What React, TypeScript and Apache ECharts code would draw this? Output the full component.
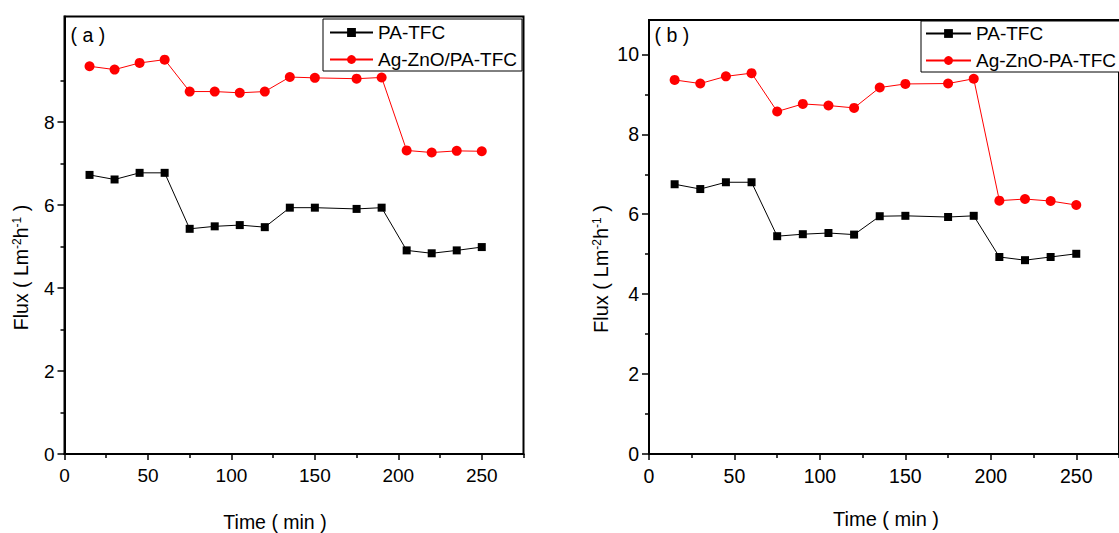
import React, { useEffect, useRef } from 'react';
import * as echarts from 'echarts';

// ---- data ----
const times = [15, 30, 45, 60, 75, 90, 105, 120, 135, 150, 175, 190, 205, 220, 235, 250];
const fluxPA_a = [6.73, 6.62, 6.78, 6.78, 5.43, 5.49, 5.52, 5.47, 5.94, 5.94, 5.91, 5.94, 4.91, 4.84, 4.91, 4.99];
const fluxAg_a = [9.35, 9.27, 9.43, 9.51, 8.74, 8.74, 8.71, 8.74, 9.09, 9.07, 9.05, 9.08, 7.32, 7.27, 7.31, 7.30];
const fluxPA_b = [6.75, 6.63, 6.80, 6.80, 5.45, 5.50, 5.53, 5.49, 5.95, 5.96, 5.93, 5.96, 4.93, 4.85, 4.93, 5.01];
const fluxAg_b = [9.36, 9.27, 9.45, 9.53, 8.57, 8.76, 8.72, 8.66, 9.17, 9.26, 9.27, 9.39, 6.34, 6.38, 6.33, 6.23];
const namesA = ['PA-TFC', 'Ag-ZnO/PA-TFC'];
const namesB = ['PA-TFC', 'Ag-ZnO-PA-TFC'];
const xMajorTicks = [0, 50, 100, 150, 200, 250];
const xMinorTicks = [25, 75, 125, 175, 225, 275];
const yMajorTicksA = [0, 2, 4, 6, 8];
const yMajorTicksB = [0, 2, 4, 6, 8, 10];
const yMinorTicks = [1, 3, 5, 7, 9];
const panelLabels = ['( a )', '( b )'];
const xTitle = 'Time ( min )';

const FONT = "'Liberation Sans', Arial, sans-serif";

function pairs(xs: number[], ys: number[]) {
  return xs.map((x, i) => [x, ys[i]]);
}

function xAxes(gridIndex: number, max: number, fs: number) {
  return [
    {
      type: 'value', gridIndex, min: 0, max, position: 'bottom',
      axisLine: { show: true, onZero: false, lineStyle: { color: '#000', width: 2 } },
      axisTick: { show: true, inside: false, length: 6, lineStyle: { color: '#000', width: 1.5 }, customValues: xMajorTicks },
      axisLabel: { show: true, margin: 12, color: '#000', fontSize: fs, fontFamily: FONT, customValues: xMajorTicks },
      splitLine: { show: false },
    },
    {
      type: 'value', gridIndex, min: 0, max, position: 'bottom',
      axisLine: { show: false, onZero: false },
      axisTick: { show: true, inside: false, length: 4, lineStyle: { color: '#000', width: 1.5 }, customValues: xMinorTicks },
      axisLabel: { show: false },
      splitLine: { show: false },
    },
  ];
}

function yAxes(gridIndex: number, max: number, major: number[], fs: number) {
  return [
    {
      type: 'value', gridIndex, min: 0, max, position: 'left',
      axisLine: { show: true, onZero: false, lineStyle: { color: '#000', width: 2 } },
      axisTick: { show: true, inside: false, length: 7, lineStyle: { color: '#000', width: 1.5 }, customValues: major },
      axisLabel: { show: true, margin: 10, color: '#000', fontSize: fs, fontFamily: FONT, customValues: major },
      splitLine: { show: false },
    },
    {
      type: 'value', gridIndex, min: 0, max, position: 'left',
      axisLine: { show: false, onZero: false },
      axisTick: { show: true, inside: false, length: 4, lineStyle: { color: '#000', width: 1.5 }, customValues: yMinorTicks },
      axisLabel: { show: false },
      splitLine: { show: false },
    },
  ];
}

function lineSeries(name: string, xIdx: number, yIdx: number, data: number[][], red: boolean) {
  const color = red ? '#ff0000' : '#000000';
  return {
    type: 'line', name, xAxisIndex: xIdx, yAxisIndex: yIdx, data,
    symbol: red ? 'circle' : 'rect', symbolSize: red ? 10 : 8,
    itemStyle: { color }, lineStyle: { color, width: 1 },
    emphasis: { disabled: true },
  };
}

function yTitle(x: number, y: number, fs: number) {
  return {
    type: 'text', x, y, rotation: Math.PI / 2,
    style: {
      text: '{a|Flux ( Lm}{s|-2}{a|h}{s|-1}{a| )}',
      rich: {
        a: { fontSize: fs, fontFamily: FONT, fill: '#000' },
        s: { fontSize: 12, fontFamily: FONT, fill: '#000', verticalAlign: 'top' },
      },
      align: 'center', verticalAlign: 'middle',
    },
  };
}

function plainText(text: string, x: number, y: number, align: string, fs: number) {
  return {
    type: 'text', x, y,
    style: { text, fontSize: fs, fontFamily: FONT, fill: '#000', align, verticalAlign: 'middle' },
  };
}

export default function App() {
  const ref = useRef<HTMLDivElement>(null);
  useEffect(() => {
    if (!ref.current) return;
    const chart = echarts.init(ref.current, undefined, { renderer: 'svg' });
    const option: any = {
      animation: false,
      backgroundColor: '#fff',
      grid: [
        { left: 64.5, top: 16.5, width: 459, height: 437.5, show: true, borderColor: '#000', borderWidth: 2, backgroundColor: 'transparent', containLabel: false },
        { left: 649, top: 20, width: 480, height: 434, show: true, borderColor: '#000', borderWidth: 2, backgroundColor: 'transparent', containLabel: false },
      ],
      xAxis: [...xAxes(0, 275, 19), ...xAxes(1, 275, 19.5)],
      yAxis: [...yAxes(0, 10.55, yMajorTicksA, 19), ...yAxes(1, 10.86, yMajorTicksB, 19.5)],
      legend: [
        {
          orient: 'vertical', left: 323, top: 19, data: namesA,
          itemWidth: 43, itemHeight: 11, itemGap: 8, padding: [4, 5, 2, 6],
          borderColor: '#000', borderWidth: 1, backgroundColor: '#fff',
          textStyle: { fontSize: 19, fontFamily: FONT, color: '#000' }, selectedMode: false,
        },
        {
          orient: 'vertical', left: 921, top: 21, data: namesB,
          itemWidth: 45, itemHeight: 11, itemGap: 8, padding: [3, 5, 2, 4],
          borderColor: '#000', borderWidth: 1, backgroundColor: '#fff',
          textStyle: { fontSize: 19, fontFamily: FONT, color: '#000' }, selectedMode: false,
        },
      ],
      series: [
        lineSeries(namesA[0], 0, 0, pairs(times, fluxPA_a), false),
        lineSeries(namesA[1], 0, 0, pairs(times, fluxAg_a), true),
        lineSeries(namesB[0], 2, 2, pairs(times, fluxPA_b), false),
        lineSeries(namesB[1], 2, 2, pairs(times, fluxAg_b), true),
      ],
      graphic: [
        plainText(panelLabels[0], 70.5, 34.5, 'left', 19.5),
        plainText(panelLabels[1], 654.5, 34.5, 'left', 19.5),
        plainText(xTitle, 275, 522, 'center', 19.5),
        plainText(xTitle, 886, 519, 'center', 20),
        yTitle(21, 267.5, 19.5),
        yTitle(601, 269, 20),
      ],
    };
    chart.setOption(option);
    return () => chart.dispose();
  }, []);
  return <div ref={ref} style={{ position: 'absolute', left: 0, top: 0, width: 1119, height: 533 }} />;
}
